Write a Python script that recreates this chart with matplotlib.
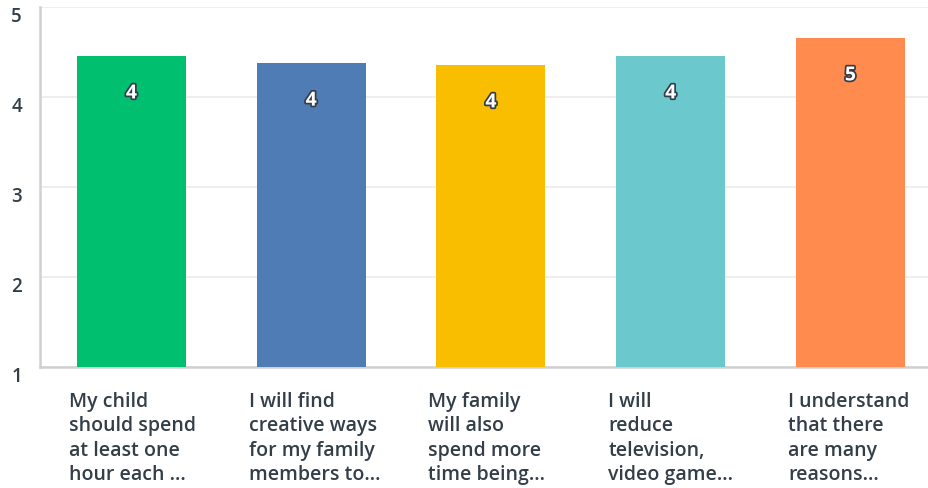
import matplotlib.pyplot as plt
import matplotlib.patheffects as pe
import matplotlib.transforms as mtransforms
import numpy as np

labels = [
    "My child\nshould spend\nat least one\nhour each ...",
    "I will find\ncreative ways\nfor my family\nmembers to...",
    "My family\nwill also\nspend more\ntime being...",
    "I will\nreduce\ntelevision,\nvideo game...",
    "I understand\nthat there\nare many\nreasons...",
]
values = [4.46, 4.38, 4.36, 4.46, 4.66]
colors = ["#00bf6f", "#507cb6", "#f9be00", "#6bc8cd", "#ff8b4f"]
yticks = [1, 2, 3, 4, 5]

txt = "#333e48"
plt.rcParams['font.family'] = ['Open Sans', 'DejaVu Sans']

fig = plt.figure(figsize=(9.29, 4.89), dpi=100)
ax = fig.add_axes([0.043, 0.2474, 0.957, 0.7362])

x = np.arange(len(values))
w = 0.606
ax.bar(x, [v - 1 for v in values], bottom=1, width=w, color=colors, zorder=3)

for xi, v in zip(x, values):
    ax.text(xi, v - 0.42, f"{round(v):d}", ha='center', va='center',
            fontsize=14, fontweight='bold', color='white', zorder=4,
            path_effects=[pe.withStroke(linewidth=2.5, foreground=txt)])

ax.set_xlim(-0.509, 4.437)
ax.set_ylim(1, 5)
ax.set_yticks(yticks)
ax.set_yticklabels([str(t) for t in yticks], fontsize=13.5, fontweight='semibold', color=txt)
ax.tick_params(axis='y', length=0, pad=13)
offset = mtransforms.ScaledTranslation(0, -6 / 100, fig.dpi_scale_trans)
for lab in ax.get_yticklabels():
    lab.set_transform(lab.get_transform() + offset)

ax.set_xticks([])
for xi, lab in zip(x, labels):
    ax.text(xi - w / 2 - 0.045, -0.066, lab, ha='left', va='top', fontsize=14,
            fontweight='semibold', color=txt, linespacing=1.3,
            transform=ax.get_xaxis_transform())

ax.grid(axis='y', color='#ebebeb', linewidth=1.2, zorder=0)
for s in ['top', 'right']:
    ax.spines[s].set_visible(False)
ax.spines['left'].set_color('#d0d0d0')
ax.spines['left'].set_linewidth(1.8)
ax.spines['bottom'].set_color('#d0d0d0')
ax.spines['bottom'].set_linewidth(1.8)

fig.savefig("out.png", dpi=100)
